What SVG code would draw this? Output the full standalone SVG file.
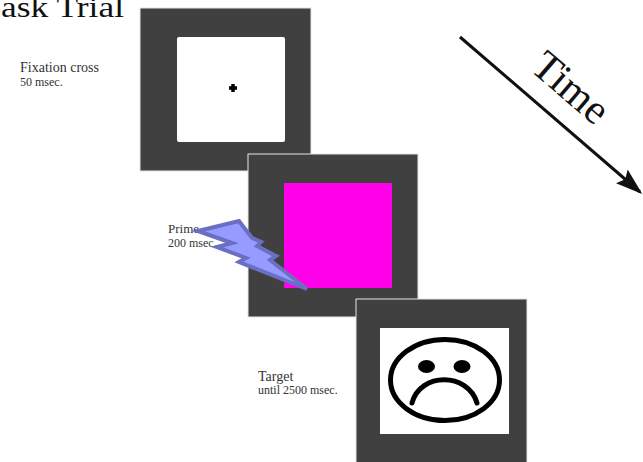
<svg xmlns="http://www.w3.org/2000/svg" width="643" height="462" viewBox="0 0 643 462">
  <defs>
    <style>
      .frame { fill: #404040; stroke: #e6e6e6; stroke-width: 1; }
      .lbl { fill: #333333; }
      .big { fill: #111111; }
      .face { fill: none; stroke: #000000; stroke-width: 5; stroke-linecap: round; }
    </style>
    <marker id="arrowhead" markerWidth="9" markerHeight="6" refX="8" refY="3" orient="auto" markerUnits="strokeWidth">
      <path d="M0,0 L9,3 L0,6 L1.5,3 Z" fill="#111111"/>
    </marker>
  </defs>
  <rect width="643" height="462" fill="#ffffff"/>

  <g font-family="'Liberation Serif', 'Times New Roman', 'DejaVu Serif', serif">
  <text class="big" x="1" y="17" font-size="30" textLength="123" lengthAdjust="spacingAndGlyphs">ask Trial</text>

  <g id="fixation">
    <rect class="frame" x="140" y="8" width="171" height="163"/>
    <rect x="177" y="37" width="108" height="105" rx="2" fill="#ffffff"/>
    <path d="M229,88 H237 M233,84 V92" stroke="#000000" stroke-width="3.5"/>
    <text class="lbl" x="20" y="72" font-size="14">Fixation cross</text>
    <text class="lbl" x="20" y="86" font-size="12">50 msec.</text>
  </g>

  <g id="prime">
    <rect class="frame" x="248" y="154" width="170" height="163"/>
    <rect x="284" y="183" width="108" height="105" fill="#ff00e8"/>
    <text class="lbl" x="168" y="233" font-size="13">Prime</text>
    <text class="lbl" x="168" y="247" font-size="12">200 msec.</text>
    <polygon points="198,231 239,221 252,238 261,242 257,246 276,256 270,260 307,289 239,262 246,258 217,247 232,243"
             fill="#979bff" stroke="#6a6fc4" stroke-width="4" stroke-linejoin="miter"/>
  </g>

  <g id="target">
    <rect class="frame" x="356" y="299" width="171" height="164"/>
    <rect x="380" y="328" width="129" height="106" fill="#ffffff"/>
    <ellipse class="face" cx="445" cy="380" rx="54.5" ry="40.5"/>
    <ellipse cx="426.5" cy="366.5" rx="8.5" ry="6.5" fill="#000000"/>
    <ellipse cx="462" cy="366.5" rx="8.5" ry="6.5" fill="#000000"/>
    <path class="face" d="M412,403 C420,372 468,372 477,403"/>
    <text class="lbl" x="258" y="381" font-size="14">Target</text>
    <text class="lbl" x="258" y="394" font-size="12">until 2500 msec.</text>
  </g>

  <g id="connectors">
    <line x1="460" y1="37" x2="640" y2="192" stroke="#111111" stroke-width="3" marker-end="url(#arrowhead)"/>
    <text class="big" x="562" y="98" font-size="42" text-anchor="middle" transform="rotate(40.6 562 98)">Time</text>
  </g>
  </g>
</svg>
